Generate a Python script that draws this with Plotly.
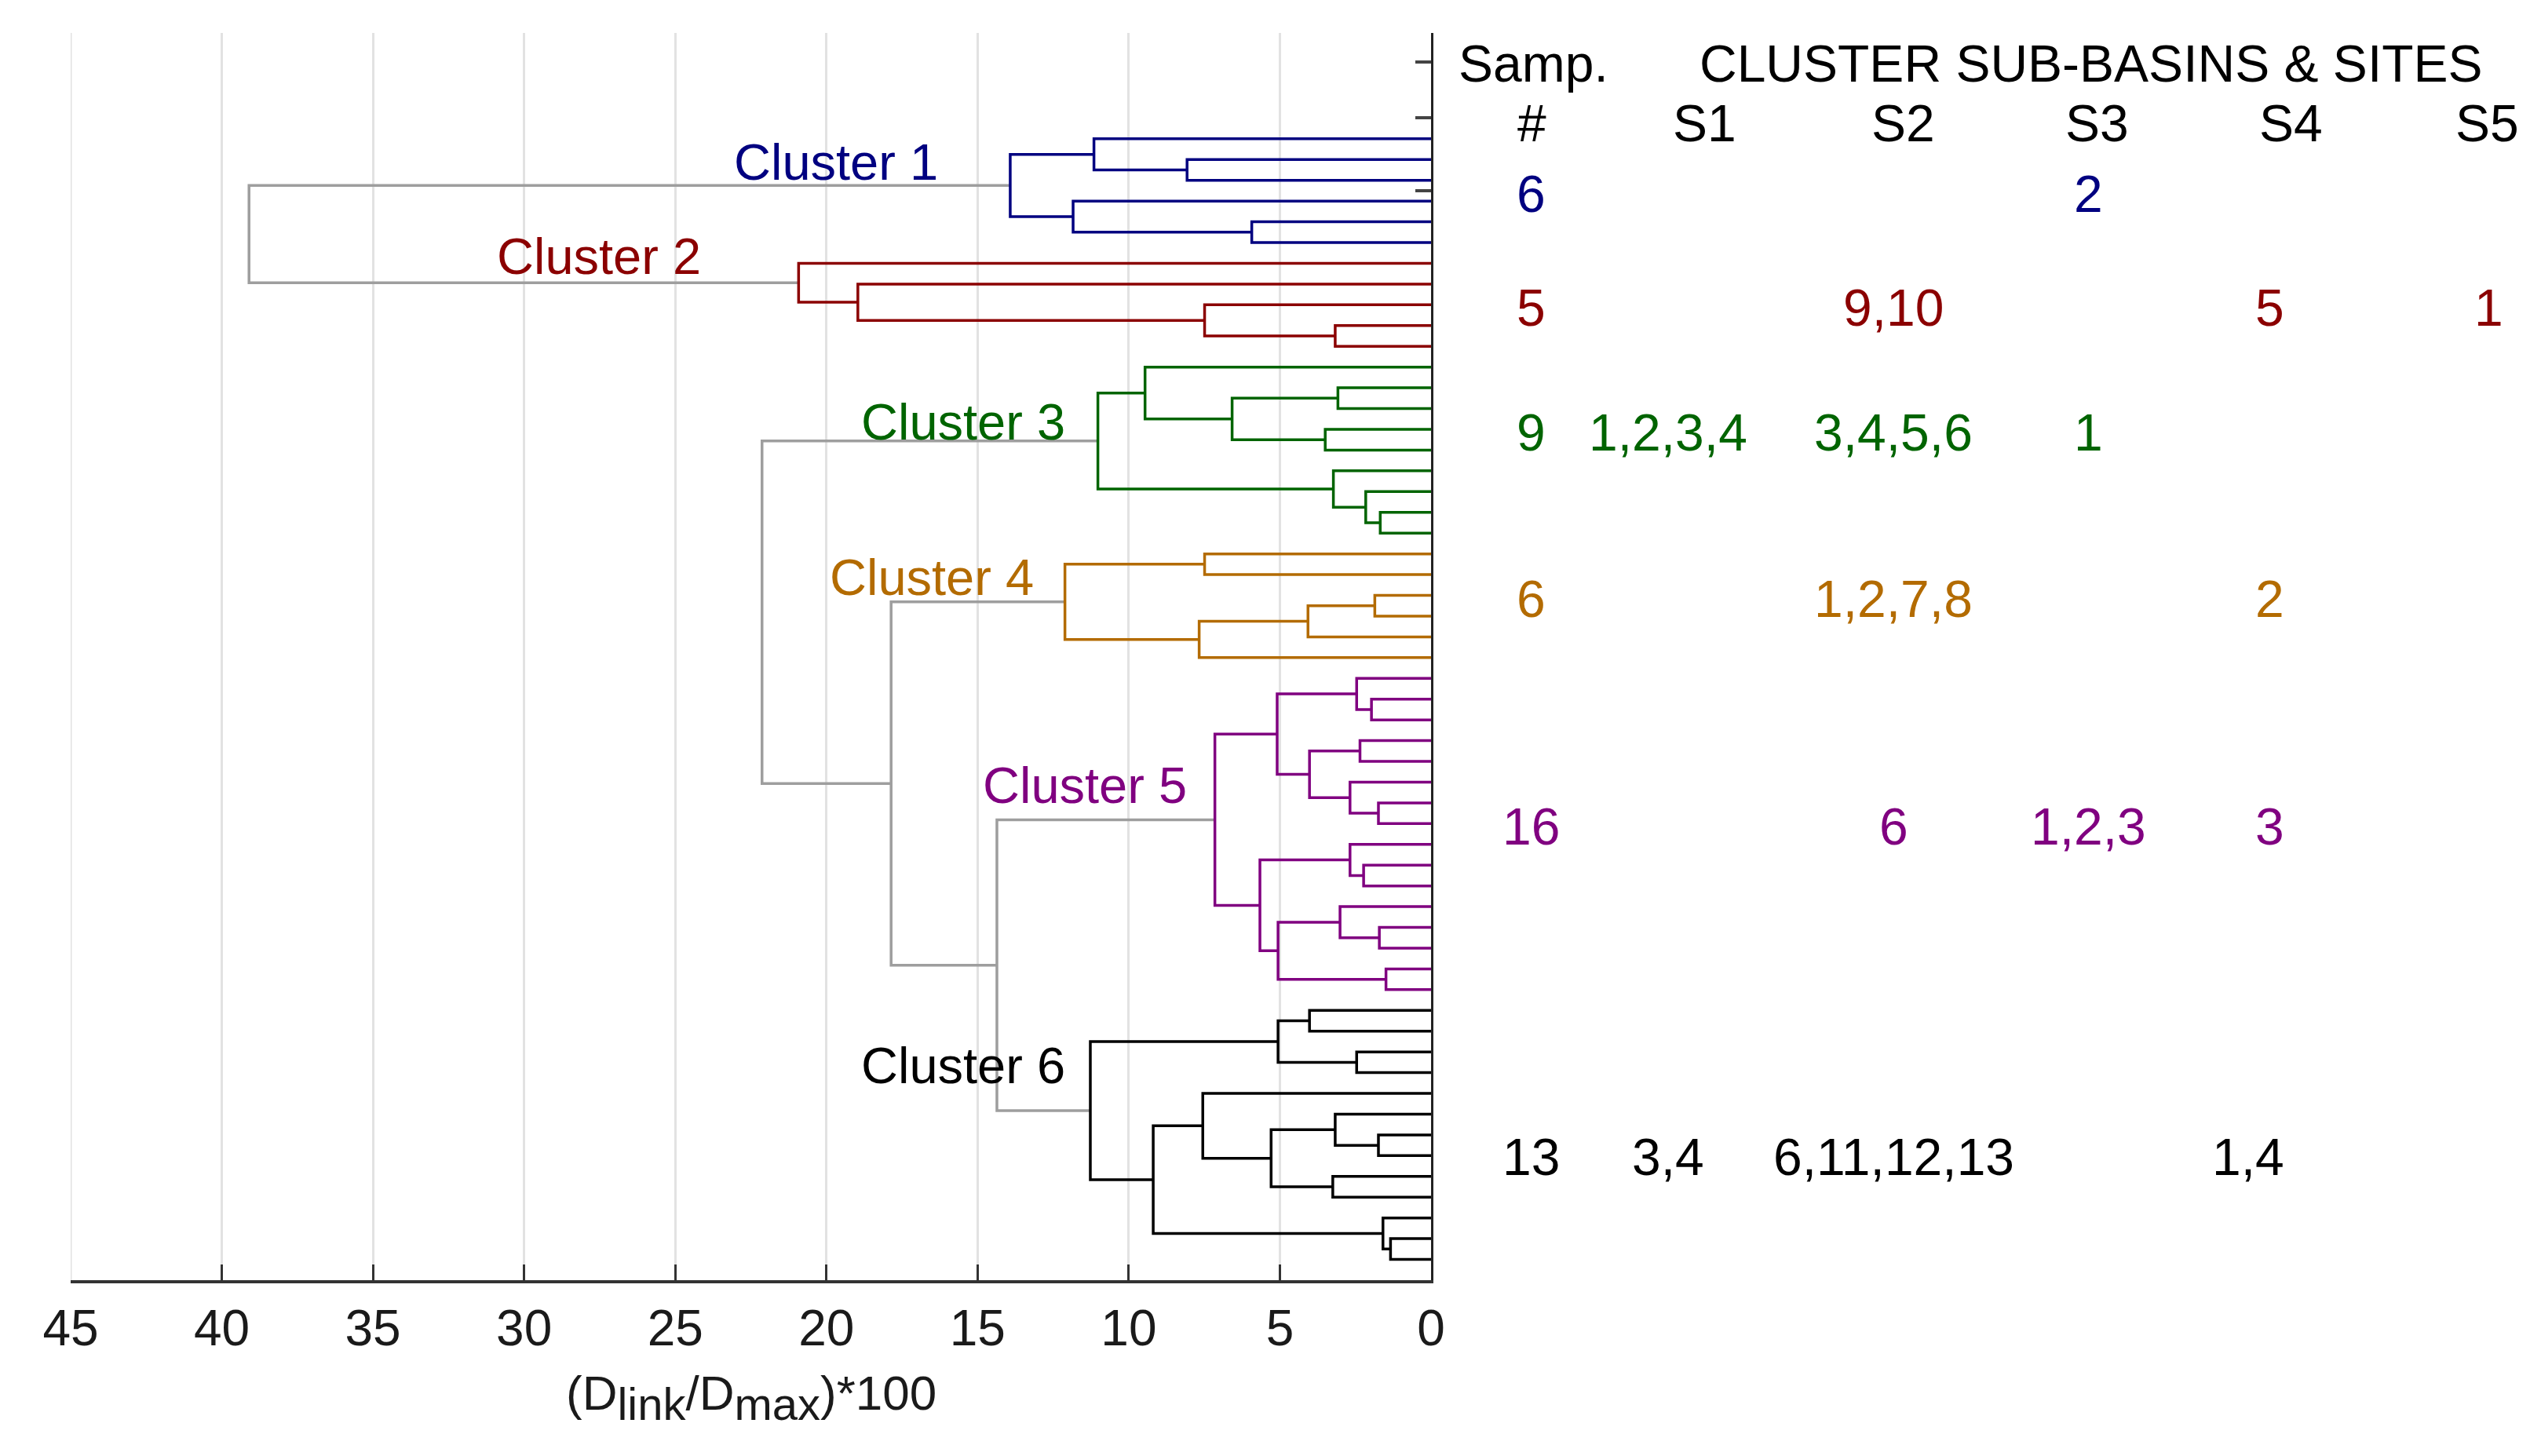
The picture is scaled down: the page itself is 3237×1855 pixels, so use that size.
import plotly.graph_objects as go

# ---------------- data ----------------
L = None  # leaf marker in the linkage trees

cluster_names = ["Cluster 1", "Cluster 2", "Cluster 3", "Cluster 4", "Cluster 5", "Cluster 6"]

# linkage trees: (link height, left child, right child); L = leaf
cluster1_tree = (13.92, (11.15, L, (8.07, L, L)), (11.84, L, (5.93, L, L)))
cluster2_tree = (20.92, L, (18.96, L, (7.49, L, (3.17, L, L))))
cluster3_tree = (11.02, (9.46, L, (6.58, (3.08, L, L), (3.50, L, L))),
                 (3.23, L, (2.16, L, (1.68, L, L))))
cluster4_tree = (12.11, (7.49, L, L), (7.67, (4.07, (1.86, L, L), L), L))
cluster5_tree = (7.15,
                 (5.09, (2.46, L, (1.97, L, L)),
                        (4.02, (2.35, L, L), (2.68, L, (1.74, L, L)))),
                 (5.66, (2.68, L, (2.23, L, L)),
                        (5.06, (3.01, L, (1.71, L, L)), (1.49, L, L))))
cluster6_tree = (11.27,
                 (5.06, (4.02, L, L), (2.46, L, L)),
                 (9.19, (7.55, L, (5.29, (3.17, L, (1.74, L, L)), (3.25, L, L))),
                        (1.59, L, (1.34, L, L))))

# links above the clusters
upper_group_a = (39.10, "Cluster 1", "Cluster 2")
upper_group_b = (22.13, "Cluster 3", (17.86, "Cluster 4", (14.36, "Cluster 5", "Cluster 6")))

x_tick_values = [45, 40, 35, 30, 25, 20, 15, 10, 5, 0]

# table on the right
table_header_1 = ["Samp.", "CLUSTER SUB-BASINS & SITES"]
table_header_2 = ["#", "S1", "S2", "S3", "S4", "S5"]
samp_counts = ["6", "5", "9", "6", "16", "13"]
sites_S1 = ["", "", "1,2,3,4", "", "", "3,4"]
sites_S2 = ["", "9,10", "3,4,5,6", "1,2,7,8", "6", "6,11,12,13"]
sites_S3 = ["2", "", "1", "", "1,2,3", ""]
sites_S4 = ["", "5", "", "2", "3", "1,4"]
sites_S5 = ["", "1", "", "", "", ""]

# ---------------- style / layout ----------------
cluster_colors = ["#000080", "#8B0000", "#006400", "#B36B00", "#800080", "#000000"]
link_gray = "#9E9E9E"
grid_color = "#E2E2E2"
FONT = "Liberation Sans, Arial, sans-serif"

W, H = 3237, 1855
PL, PR, PT, PB = 90, 1823, 42, 1631
y_range = [56.0, -4.1]


def paper_x(px):
    return (px - PL) / (PR - PL)


def paper_y(py):
    return 1 - (py - PT) / (PB - PT)


def data_y(py):
    return y_range[1] + (py - PT) / (PB - PT) * (y_range[0] - y_range[1])


trees = dict(zip(cluster_names, [cluster1_tree, cluster2_tree, cluster3_tree,
                                 cluster4_tree, cluster5_tree, cluster6_tree]))
colors = dict(zip(cluster_names, cluster_colors))

segments = {}
leaf_counter = [0]


def add_link(color, xs, ys):
    sx, sy = segments.setdefault(color, ([], []))
    sx.extend(xs + [None])
    sy.extend(ys + [None])


def place(node, color):
    if node is L:
        leaf_counter[0] += 1
        return float(leaf_counter[0]), 0.0
    if isinstance(node, str):
        return place(trees[node], colors[node])
    h, a, b = node
    ya, ha = place(a, color)
    yb, hb = place(b, color)
    add_link(color, [ha, h, h, hb], [ya, ya, yb, yb])
    return (ya + yb) / 2.0, h


place(upper_group_a, link_gray)
place(upper_group_b, link_gray)

fig = go.Figure()
for color in [link_gray] + cluster_colors:
    if color in segments:
        xs, ys = segments[color]
        fig.add_trace(go.Scatter(x=xs, y=ys, mode="lines",
                                 line=dict(color=color, width=3.5),
                                 hoverinfo="skip", showlegend=False))

annotations = []

# cluster labels (right end x in axis units, cap centre in pixels)
label_pos = [(16.26, 206), (24.11, 326), (12.05, 537), (13.08, 735), (8.02, 1000), (12.05, 1357)]
for name, col, (lx, ly) in zip(cluster_names, cluster_colors, label_pos):
    annotations.append(dict(x=lx, y=data_y(ly), xref="x", yref="y", text=name,
                            showarrow=False, xanchor="right", yanchor="middle",
                            font=dict(family=FONT, size=65, color=col)))

# table header
head1_x = [1953, 2664]
head_y1, head_y2 = 81, 157
for t, x in zip(table_header_1, head1_x):
    annotations.append(dict(x=paper_x(x), y=data_y(head_y1), xref="paper", yref="y", text=t,
                            showarrow=False, xanchor="center", yanchor="middle",
                            font=dict(family=FONT, size=66, color="#000000")))
head2_x = [1951, 2171, 2424, 2671, 2918, 3168]
for t, x in zip(table_header_2, head2_x):
    annotations.append(dict(x=paper_x(x), y=data_y(head_y2), xref="paper", yref="y", text=t,
                            showarrow=False, xanchor="center", yanchor="middle",
                            font=dict(family=FONT, size=66, color="#000000")))

# table rows
col_x = [1950, 2125, 2412, 2660, 2912, 3170]
col_anchor = ["center", "center", "center", "center", "right", "center"]
row_y = [247, 392, 551, 763, 1053, 1474]
columns = [samp_counts, sites_S1, sites_S2, sites_S3, sites_S4, sites_S5]
for i, col in enumerate(cluster_colors):
    for cx, anc, vals in zip(col_x, col_anchor, columns):
        if vals[i]:
            annotations.append(dict(x=paper_x(cx), y=data_y(row_y[i]), xref="paper", yref="y",
                                    text=vals[i], showarrow=False, xanchor=anc,
                                    yanchor="middle",
                                    font=dict(family=FONT, size=66, color=col)))

# x axis title
annotations.append(dict(x=0.5, y=paper_y(1780), xref="paper", yref="paper",
                        text="(D<sub><span style='font-size:58px'>link</span></sub>/D"
                             "<sub><span style='font-size:58px'>max</span></sub>)*100",
                        showarrow=False, xanchor="center", yanchor="middle",
                        font=dict(family=FONT, size=62, color="#1a1a1a")))

fig.add_shape(type="line", xref="x", yref="paper", x0=x_tick_values[0], x1=x_tick_values[0],
              y0=0, y1=1, line=dict(color=grid_color, width=3), layer="below")

fig.update_layout(
    width=W, height=H,
    margin=dict(l=PL, r=W - PR, t=PT, b=H - PB, pad=0),
    paper_bgcolor="white", plot_bgcolor="white",
    showlegend=False,
    annotations=annotations,
    xaxis=dict(range=[45, 0], tickvals=x_tick_values, ticktext=[str(v) for v in x_tick_values],
               showgrid=True, gridcolor=grid_color, gridwidth=3,
               showline=True, linecolor="#333333", linewidth=4,
               ticks="inside", ticklen=20, tickwidth=3, tickcolor="#333333",
               ticklabelstandoff=2,
               tickfont=dict(family=FONT, size=64, color="#1a1a1a"),
               zeroline=False, mirror=False),
    yaxis=dict(range=y_range, side="right", showgrid=False, zeroline=False,
               showline=True, linecolor="#222222", linewidth=3,
               tickvals=[data_y(79), data_y(150), data_y(243)], showticklabels=False,
               ticks="inside", ticklen=20, tickwidth=4, tickcolor="#444444"),
)

fig.write_html("out.html", config={"displayModeBar": False},
               post_script="document.body.style.margin='0';")
